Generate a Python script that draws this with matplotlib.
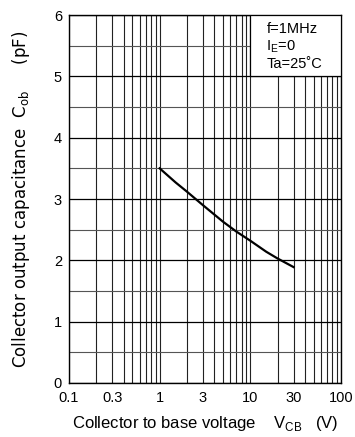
#!/usr/bin/env python3
# -*- coding: utf-8 -*-

"""Collector output capacitance vs. collector to base voltage."""

import matplotlib
matplotlib.use('Agg')
import matplotlib.pyplot as plt
from matplotlib.patches import Rectangle
from matplotlib.ticker import FixedLocator, NullFormatter


# Data.
v_cb = [1.0, 1.5, 2.0, 3.0, 5.0, 7.0, 10.0, 15.0, 20.0, 30.0]
c_ob = [3.50, 3.27, 3.12, 2.90, 2.63, 2.47, 2.32, 2.14, 2.03, 1.89]
x_ticks = [0.1, 0.3, 1, 3, 10, 30, 100]
x_labels = ['0.1', '0.3', '1', '3', '10', '30', '100']
y_ticks = [0, 1, 2, 3, 4, 5, 6]
notes = ['f=1MHz', r'I$_{\mathregular{E}}$=0', 'Ta=25˚C']

plt.rcParams['font.family'] = ['Liberation Sans', 'DejaVu Sans']
plt.rcParams['mathtext.fontset'] = 'custom'
plt.rcParams['mathtext.rm'] = 'Liberation Sans'

fig = plt.figure(figsize=(3.55, 4.37), dpi=100)
ax = fig.add_axes([0.1944, 0.1236, 0.766, 0.842])

# Plot.
ax.plot(v_cb, c_ob, color='black', lw=1.6, zorder=4)

ax.set_xscale('log')
ax.set_xlim(0.1, 100)
ax.set_ylim(0, 6)
ax.set_xticks(x_ticks)
ax.set_xticklabels(x_labels)
ax.xaxis.set_minor_locator(FixedLocator(
    [m * 10.0**d for d in (-1, 0, 1) for m in range(2, 10)]))
ax.xaxis.set_minor_formatter(NullFormatter())
ax.set_yticks(y_ticks)
ax.set_yticks([0.5, 1.5, 2.5, 3.5, 4.5, 5.5], minor=True)
ax.tick_params(which='both', length=0, labelsize=10.5, colors='black')
ax.tick_params(axis='x', pad=6)
ax.tick_params(axis='y', pad=5)

ax.grid(True, which='major', axis='y', color='black', lw=0.9)
ax.grid(True, which='minor', axis='y', color='#555555', lw=0.8)
ax.grid(True, which='both', axis='x', color='#222222', lw=0.8)
for s in ax.spines.values():
    s.set_linewidth(1.0)

# Conditions box.
ax.add_patch(Rectangle((10, 5), 90, 1, facecolor='white', edgecolor='black',
                       lw=0.9, zorder=3))
for i, t in enumerate(notes):
    ax.text(0.726, 0.962 - i * 0.048, t, transform=ax.transAxes,
            fontsize=10.5, va='center', ha='left', zorder=5)

ax.set_xlabel(r'Collector to base voltage    V$_{\mathregular{CB}}$   (V)',
              fontsize=12, labelpad=6)
ax.set_ylabel(r'Collector output capacitance  C$_{\mathregular{ob}}$     (pF)',
              fontsize=12, family='DejaVu Sans', labelpad=16)

fig.savefig('out.png', dpi=100)
